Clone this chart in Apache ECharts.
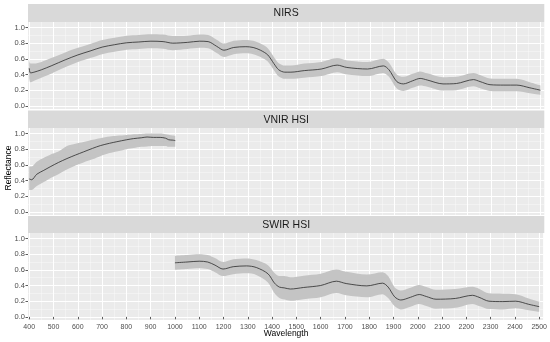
<!DOCTYPE html>
<html>
<head>
<meta charset="utf-8">
<script src="https://cdn.jsdelivr.net/npm/echarts@6/dist/echarts.min.js"></script>
<style>
html,body{margin:0;padding:0;background:#fff;}
#c{width:550px;height:342px;}
</style>
</head>
<body>
<div id="c"></div>
<script>
// ---- data ----
const panelTitles = ['NIRS', 'VNIR HSI', 'SWIR HSI'];

const wlNIRS = [400, 405, 420, 450, 490, 550, 600, 650, 700, 750, 800, 850, 900, 950, 990, 1050, 1100, 1135, 1170, 1200, 1240, 1290, 1320, 1350, 1380, 1405, 1425, 1450, 1475, 1530, 1600, 1665, 1705, 1790, 1855, 1878, 1910, 1937, 1975, 2006, 2035, 2100, 2155, 2225, 2252, 2293, 2350, 2403, 2457, 2500];
const meanNIRS = [0.48, 0.42, 0.43, 0.46, 0.51, 0.59, 0.65, 0.70, 0.75, 0.78, 0.805, 0.815, 0.825, 0.82, 0.80, 0.81, 0.825, 0.82, 0.76, 0.71, 0.745, 0.755, 0.745, 0.71, 0.65, 0.54, 0.46, 0.43, 0.43, 0.45, 0.47, 0.52, 0.49, 0.47, 0.51, 0.46, 0.31, 0.28, 0.32, 0.35, 0.33, 0.28, 0.285, 0.335, 0.31, 0.27, 0.265, 0.265, 0.23, 0.20];
const upNIRS = [0.60, 0.54, 0.54, 0.56, 0.61, 0.685, 0.74, 0.79, 0.84, 0.87, 0.895, 0.905, 0.915, 0.91, 0.89, 0.895, 0.91, 0.905, 0.845, 0.795, 0.83, 0.84, 0.83, 0.795, 0.735, 0.625, 0.545, 0.515, 0.515, 0.54, 0.56, 0.61, 0.58, 0.56, 0.60, 0.55, 0.40, 0.37, 0.41, 0.44, 0.415, 0.365, 0.37, 0.42, 0.395, 0.35, 0.345, 0.345, 0.30, 0.26];
const loNIRS = [0.36, 0.30, 0.32, 0.36, 0.41, 0.495, 0.56, 0.61, 0.66, 0.69, 0.715, 0.725, 0.735, 0.73, 0.71, 0.725, 0.74, 0.735, 0.675, 0.625, 0.66, 0.67, 0.66, 0.625, 0.565, 0.455, 0.375, 0.345, 0.345, 0.36, 0.38, 0.43, 0.40, 0.38, 0.42, 0.37, 0.22, 0.19, 0.23, 0.26, 0.245, 0.195, 0.20, 0.25, 0.225, 0.19, 0.185, 0.185, 0.16, 0.14];

const wlVNIR = [400, 410, 431, 460, 486, 520, 555, 590, 623, 660, 692, 730, 760, 800, 829, 860, 884, 910, 938, 960, 973, 990, 1000];
const meanVNIR = [0.42, 0.41, 0.48, 0.53, 0.575, 0.63, 0.68, 0.725, 0.765, 0.81, 0.845, 0.875, 0.895, 0.92, 0.935, 0.945, 0.955, 0.95, 0.95, 0.94, 0.92, 0.915, 0.91];
const upVNIR = [0.58, 0.58, 0.64, 0.69, 0.73, 0.77, 0.84, 0.87, 0.89, 0.92, 0.94, 0.96, 0.97, 0.98, 0.99, 0.995, 1.0, 1.0, 1.0, 0.99, 0.985, 0.975, 0.97];
const loVNIR = [0.28, 0.28, 0.33, 0.38, 0.43, 0.48, 0.54, 0.59, 0.63, 0.67, 0.71, 0.75, 0.77, 0.80, 0.815, 0.83, 0.835, 0.84, 0.84, 0.84, 0.83, 0.83, 0.83];

const wlSWIR = [1000, 1050, 1100, 1135, 1165, 1198, 1240, 1295, 1335, 1383, 1410, 1430, 1450, 1475, 1530, 1600, 1665, 1705, 1790, 1855, 1878, 1905, 1930, 1970, 2006, 2035, 2075, 2155, 2225, 2252, 2293, 2350, 2403, 2457, 2500];
const meanSWIR = [0.69, 0.70, 0.71, 0.70, 0.66, 0.61, 0.64, 0.65, 0.63, 0.55, 0.43, 0.38, 0.37, 0.355, 0.375, 0.40, 0.455, 0.425, 0.395, 0.43, 0.38, 0.255, 0.215, 0.25, 0.285, 0.26, 0.225, 0.235, 0.275, 0.25, 0.20, 0.195, 0.20, 0.16, 0.13];
const upSWIR = [0.78, 0.79, 0.80, 0.79, 0.75, 0.70, 0.735, 0.745, 0.725, 0.66, 0.56, 0.52, 0.52, 0.505, 0.525, 0.55, 0.605, 0.575, 0.54, 0.57, 0.52, 0.375, 0.335, 0.37, 0.405, 0.38, 0.345, 0.355, 0.385, 0.36, 0.30, 0.295, 0.29, 0.235, 0.195];
const loSWIR = [0.60, 0.61, 0.62, 0.61, 0.57, 0.52, 0.545, 0.555, 0.535, 0.44, 0.30, 0.24, 0.22, 0.205, 0.225, 0.25, 0.305, 0.275, 0.25, 0.29, 0.24, 0.135, 0.095, 0.13, 0.165, 0.14, 0.105, 0.115, 0.165, 0.14, 0.10, 0.095, 0.11, 0.085, 0.065];

const xMajorTicks = [400, 500, 600, 700, 800, 900, 1000, 1100, 1200, 1300, 1400, 1500, 1600, 1700, 1800, 1900, 2000, 2100, 2200, 2300, 2400, 2500];
const xMinorTicks = [450, 550, 650, 750, 850, 950, 1050, 1150, 1250, 1350, 1450, 1550, 1650, 1750, 1850, 1950, 2050, 2150, 2250, 2350, 2450];
const yMajorTicks = [0, 0.2, 0.4, 0.6, 0.8, 1.0];
const yMinorTicks = [0.1, 0.3, 0.5, 0.7, 0.9];

// ---- layout ----
const X_MIN = 395, X_MAX = 2516, Y_MIN = -0.04, Y_MAX = 1.07;
const LEFT = 28, RIGHT = 5.7;
const W = 550 - LEFT - RIGHT;
const gridTops = [22, 128, 233];
const gridH = 87;
const strips = [[4, 18], [110.5, 17.5], [216, 17]];
const FONT = 'Liberation Sans, Arial, sans-serif';

const panels = [
  [wlNIRS, meanNIRS, loNIRS, upNIRS],
  [wlVNIR, meanVNIR, loVNIR, upVNIR],
  [wlSWIR, meanSWIR, loSWIR, upSWIR]
];

const grids = [], xAxes = [], yAxes = [], series = [];
panels.forEach((p, i) => {
  grids.push({left: LEFT, width: W, top: gridTops[i], height: gridH, show: true,
    backgroundColor: '#EBEBEB', borderWidth: 0});
  const isBottom = i === 2;
  xAxes.push({type: 'value', gridIndex: i, min: X_MIN, max: X_MAX,
    axisLine: {show: false},
    axisTick: {show: isBottom, customValues: xMajorTicks, length: 2.5, lineStyle: {color: '#333333', width: 0.8}},
    axisLabel: {show: isBottom, customValues: xMajorTicks, fontSize: 7, color: '#4D4D4D', margin: 3.5, fontFamily: FONT,
      formatter: v => String(v)},
    splitLine: {show: true, lineStyle: {color: '#FFFFFF', width: 1}}
  });
  xAxes.push({type: 'value', gridIndex: i, min: X_MIN, max: X_MAX,
    axisLine: {show: false},
    axisTick: {show: false, customValues: xMinorTicks},
    axisLabel: {show: false, customValues: xMinorTicks},
    splitLine: {show: true, lineStyle: {color: '#FFFFFF', width: 0.5, opacity: 0.7}}
  });
  yAxes.push({type: 'value', gridIndex: i, min: Y_MIN, max: Y_MAX,
    axisLine: {show: false},
    axisTick: {show: true, customValues: yMajorTicks, length: 2.5, lineStyle: {color: '#333333', width: 0.8}},
    axisLabel: {show: true, customValues: yMajorTicks, fontSize: 7.5, color: '#4D4D4D', margin: 3,
      formatter: v => Number(v).toFixed(1), fontFamily: FONT},
    splitLine: {show: true, lineStyle: {color: '#FFFFFF', width: 1}}
  });
  yAxes.push({type: 'value', gridIndex: i, min: Y_MIN, max: Y_MAX,
    axisLine: {show: false},
    axisTick: {show: false, customValues: yMinorTicks},
    axisLabel: {show: false, customValues: yMinorTicks},
    splitLine: {show: true, lineStyle: {color: '#FFFFFF', width: 0.5, opacity: 0.7}}
  });
  const [wl, mean, lo, up] = p;
  const xa = i * 2, ya = i * 2;
  // rows are [y, x] so the stacked dimension is the y value
  series.push({type: 'line', xAxisIndex: xa, yAxisIndex: ya, stack: 'rib' + i, symbol: 'none',
    encode: {x: 1, y: 0}, smooth: 0.3, silent: true, lineStyle: {opacity: 0},
    data: wl.map((x, k) => [lo[k], x]), z: 2});
  series.push({type: 'line', xAxisIndex: xa, yAxisIndex: ya, stack: 'rib' + i, symbol: 'none',
    encode: {x: 1, y: 0}, smooth: 0.3, silent: true, lineStyle: {opacity: 0},
    areaStyle: {color: '#C4C4C4', opacity: 1},
    data: wl.map((x, k) => [up[k] - lo[k], x]), z: 2});
  series.push({type: 'line', xAxisIndex: xa, yAxisIndex: ya, symbol: 'none', smooth: 0.3, silent: true,
    lineStyle: {color: '#2B2B2B', width: 0.8}, data: wl.map((x, k) => [x, mean[k]]), z: 3});
});

const graphics = [];
strips.forEach((s, i) => {
  graphics.push({type: 'rect', shape: {x: LEFT, y: s[0], width: W, height: s[1]}, style: {fill: '#D9D9D9'}, silent: true});
  graphics.push({type: 'text', x: LEFT + W / 2, y: s[0] + s[1] / 2 + 0.5,
    style: {text: panelTitles[i], fill: '#1A1A1A', fontSize: 10.5, fontFamily: FONT,
      textAlign: 'center', textVerticalAlign: 'middle'}, silent: true});
});
graphics.push({type: 'text', x: 9, y: 168, rotation: Math.PI / 2,
  style: {text: 'Reflectance', fill: '#000000', fontSize: 8.5, fontFamily: FONT,
    textAlign: 'center', textVerticalAlign: 'middle'}, silent: true});
graphics.push({type: 'text', x: LEFT + W / 2, y: 334,
  style: {text: 'Wavelength', fill: '#000000', fontSize: 8.5, fontFamily: FONT,
    textAlign: 'center', textVerticalAlign: 'middle'}, silent: true});

const chart = echarts.init(document.getElementById('c'), null, {renderer: 'canvas'});
chart.setOption({
  animation: false,
  backgroundColor: '#FFFFFF',
  grid: grids,
  xAxis: xAxes,
  yAxis: yAxes,
  series: series,
  graphic: graphics
});
</script>
</body>
</html>
